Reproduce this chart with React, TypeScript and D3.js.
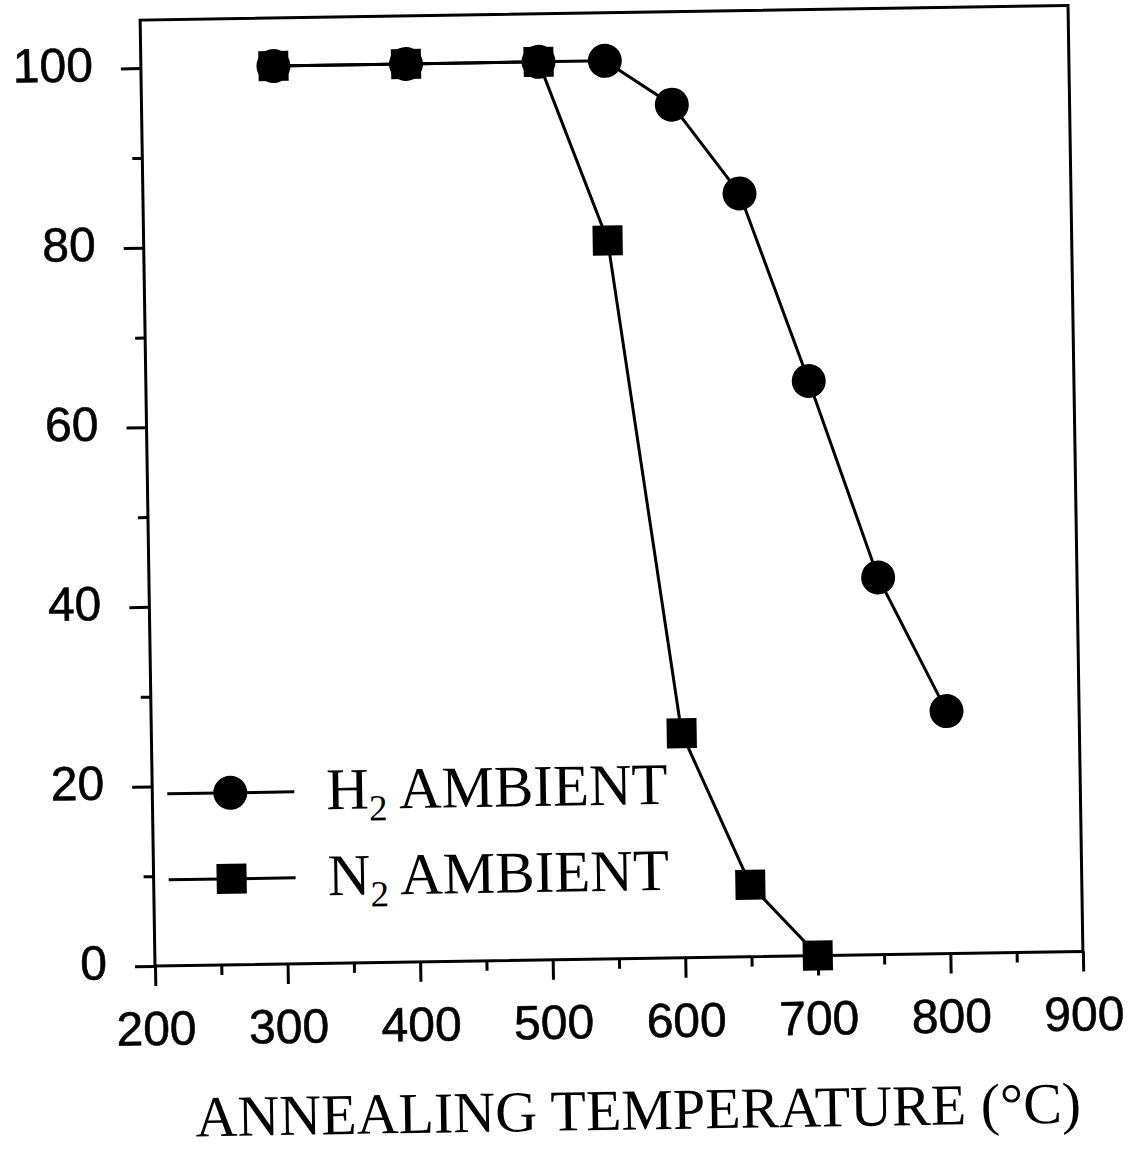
import { useRef, useEffect } from 'react';
import { select, scaleLinear, axisBottom, axisLeft, line } from 'd3';

// annealing temperature (°C)
const h2Temps = [300, 400, 500, 550, 600, 650, 700, 750, 800];
const h2Values = [100, 100, 100, 100, 95, 85, 64, 42, 27];
const n2Temps = [300, 400, 500, 550, 600, 650, 700];
const n2Values = [100, 100, 100, 80, 25, 8, 0];

const xTicks = [200, 300, 400, 500, 600, 700, 800, 900];
const xMinorTicks = [250, 350, 450, 550, 650, 750, 850];
const yTicks = [0, 20, 40, 60, 80, 100];
const yMinorTicks = [10, 30, 50, 70, 90];

const legendItems = [
  { gas: 'H', sub: '2', rest: ' AMBIENT', marker: 'circle' },
  { gas: 'N', sub: '2', rest: ' AMBIENT', marker: 'square' },
];
const xTitle = 'ANNEALING TEMPERATURE (°C)';

const WIDTH = 1135;
const HEIGHT = 1149;
const SANS = '"Liberation Sans", Arial, Helvetica, sans-serif';
const SERIF = '"Liberation Serif", "Times New Roman", serif';

export default function App() {
  const svgRef = useRef<SVGSVGElement>(null);

  const x = scaleLinear().domain([200, 900]).range([155, 1083]);
  const y = scaleLinear().domain([0, 100]).range([966, 68]);
  const frameTop = 20;

  useEffect(() => {
    const root = select(svgRef.current).select<SVGGElement>('g.axes');
    root.selectAll('*').remove();

    const styleAxis = (g: any) => {
      g.select('.domain').remove();
      g.attr('font-size', null).attr('font-family', null);
      g.selectAll('line').attr('stroke', '#000').attr('stroke-width', 3);
      g.selectAll('text')
        .attr('font-size', 48)
        .attr('font-family', SANS)
        .attr('fill', '#000')
        .attr('stroke', '#000')
        .attr('stroke-width', 0.6);
    };

    root
      .append('g')
      .attr('transform', `translate(0,${y(0)})`)
      .call(axisBottom(x).tickValues(xMinorTicks).tickSize(10).tickFormat(() => ''))
      .call(styleAxis);
    root
      .append('g')
      .attr('transform', `translate(0,${y(0)})`)
      .call(axisBottom(x).tickValues(xTicks).tickSize(20).tickPadding(25).tickFormat((d) => String(d)))
      .call(styleAxis);
    root
      .append('g')
      .attr('transform', `translate(${x(200)},0)`)
      .call(axisLeft(y).tickValues(yMinorTicks).tickSize(10).tickFormat(() => ''))
      .call(styleAxis);
    const gy = root
      .append('g')
      .attr('transform', `translate(${x(200)},0)`)
      .call(axisLeft(y).tickValues(yTicks).tickSize(20).tickPadding(28).tickFormat((d) => String(d)))
      .call(styleAxis);
    gy.selectAll('text').attr('dy', 12);
  }, []);

  const h2Points: [number, number][] = h2Temps.map((t, i) => [t, h2Values[i]]);
  const n2Points: [number, number][] = n2Temps.map((t, i) => [t, n2Values[i]]);
  const path = line<[number, number]>()
    .x(([t]) => x(t))
    .y(([, v]) => y(v));

  const R = 17;
  const S = 30;

  return (
    <svg
      ref={svgRef}
      width={WIDTH}
      height={HEIGHT}
      style={{ position: 'absolute', left: 0, top: 0, background: '#fff' }}
    >
      <rect width={WIDTH} height={HEIGHT} fill="#fff" />
      <g transform={`rotate(-0.9 ${x(200)} ${y(0)})`}>
        <rect
          x={x(200)}
          y={frameTop}
          width={x(900) - x(200)}
          height={y(0) - frameTop}
          fill="none"
          stroke="#000"
          strokeWidth={3}
        />
        <g className="axes" />

        <path d={path(h2Points) ?? ''} fill="none" stroke="#000" strokeWidth={3} />
        {h2Points.map(([t, v]) => (
          <circle key={`h${t}`} cx={x(t)} cy={y(v)} r={R} fill="#000" />
        ))}
        <path d={path(n2Points) ?? ''} fill="none" stroke="#000" strokeWidth={3} />
        {n2Points.map(([t, v]) => (
          <rect key={`n${t}`} x={x(t) - S / 2} y={y(v) - S / 2} width={S} height={S} fill="#000" />
        ))}

        {legendItems.map((item, i) => {
          const ly = 794 + i * 86;
          return (
            <g key={item.gas}>
              <line x1={170} x2={297} y1={ly} y2={ly} stroke="#000" strokeWidth={3} />
              {item.marker === 'circle' ? (
                <circle cx={233} cy={ly} r={R} fill="#000" />
              ) : (
                <rect x={233 - S / 2} y={ly - S / 2} width={S} height={S} fill="#000" />
              )}
              <text x={329} y={ly + 18} fontFamily={SERIF} fontSize={59} fill="#000">
                {item.gas}
                <tspan fontSize={37} dy={12}>
                  {item.sub}
                </tspan>
                <tspan dy={-12}>{item.rest}</tspan>
              </text>
            </g>
          );
        })}

        <text x={636} y={1137} textAnchor="middle" fontFamily={SERIF} fontSize={58} fill="#000">
          {xTitle}
        </text>
      </g>
    </svg>
  );
}
